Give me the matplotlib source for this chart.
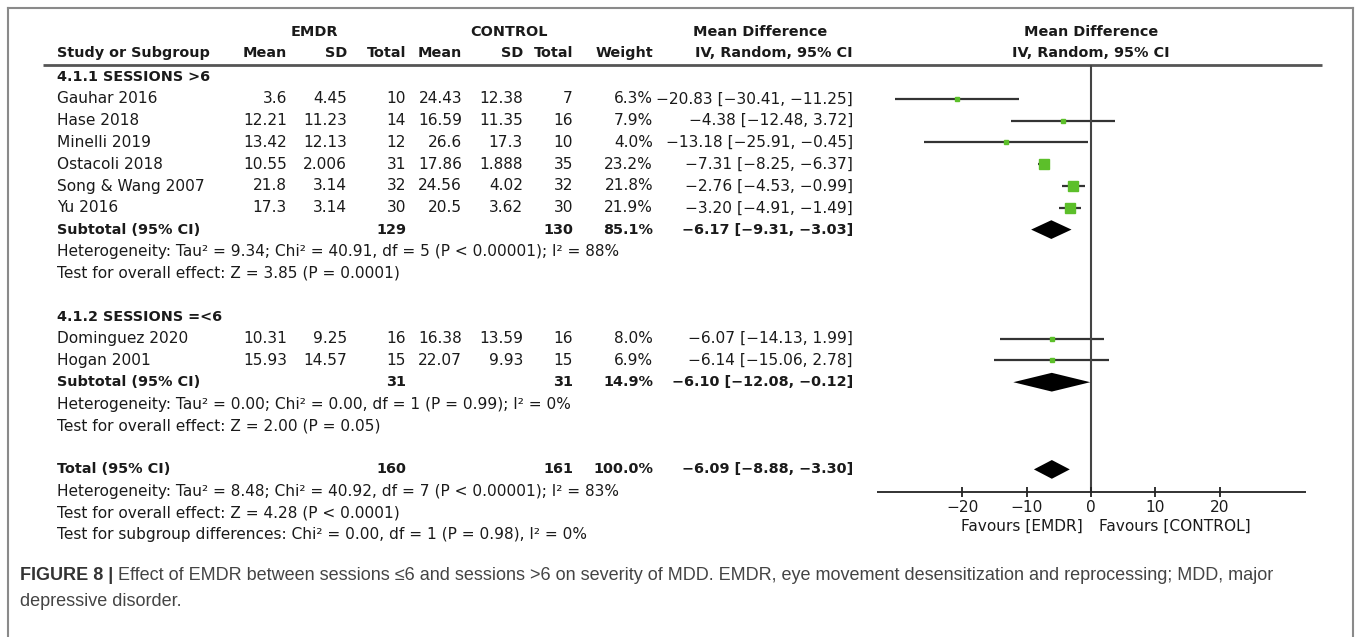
import matplotlib
matplotlib.use("Agg")
import matplotlib.pyplot as plt
from matplotlib.lines import Line2D

# ---- data ----
studies = ["Gauhar 2016", "Hase 2018", "Minelli 2019", "Ostacoli 2018",
           "Song & Wang 2007", "Yu 2016", "Dominguez 2020", "Hogan 2001"]
study_group = [0, 0, 0, 0, 0, 0, 1, 1]
emdr_mean = ["3.6", "12.21", "13.42", "10.55", "21.8", "17.3", "10.31", "15.93"]
emdr_sd = ["4.45", "11.23", "12.13", "2.006", "3.14", "3.14", "9.25", "14.57"]
emdr_n = [10, 14, 12, 31, 32, 30, 16, 15]
ctrl_mean = ["24.43", "16.59", "26.6", "17.86", "24.56", "20.5", "16.38", "22.07"]
ctrl_sd = ["12.38", "11.35", "17.3", "1.888", "4.02", "3.62", "13.59", "9.93"]
ctrl_n = [7, 16, 10, 35, 32, 30, 16, 15]
weight = [6.3, 7.9, 4.0, 23.2, 21.8, 21.9, 8.0, 6.9]
md = [-20.83, -4.38, -13.18, -7.31, -2.76, -3.20, -6.07, -6.14]
ci_lo = [-30.41, -12.48, -25.91, -8.25, -4.53, -4.91, -14.13, -15.06]
ci_hi = [-11.25, 3.72, -0.45, -6.37, -0.99, -1.49, 1.99, 2.78]

groups = ["4.1.1 SESSIONS >6", "4.1.2 SESSIONS =<6"]
sub_emdr_n = [129, 31]
sub_ctrl_n = [130, 31]
sub_weight = [85.1, 14.9]
sub_md = [-6.17, -6.10]
sub_lo = [-9.31, -12.08]
sub_hi = [-3.03, -0.12]
sub_het = ["Heterogeneity: Tau² = 9.34; Chi² = 40.91, df = 5 (P < 0.00001); I² = 88%",
           "Heterogeneity: Tau² = 0.00; Chi² = 0.00, df = 1 (P = 0.99); I² = 0%"]
sub_test = ["Test for overall effect: Z = 3.85 (P = 0.0001)",
            "Test for overall effect: Z = 2.00 (P = 0.05)"]

total_emdr_n = 160
total_ctrl_n = 161
total_weight = 100.0
total_md = -6.09
total_lo = -8.88
total_hi = -3.30
total_lines = ["Heterogeneity: Tau² = 8.48; Chi² = 40.92, df = 7 (P < 0.00001); I² = 83%",
               "Test for overall effect: Z = 4.28 (P < 0.0001)",
               "Test for subgroup differences: Chi² = 0.00, df = 1 (P = 0.98), I² = 0%"]

xticks = [-20, -10, 0, 10, 20]
favours = ["Favours [EMDR]", "Favours [CONTROL]"]

caption_bold = "FIGURE 8 |"
caption_text = (" Effect of EMDR between sessions \u22646 and sessions >6 on severity of MDD. "
                "EMDR, eye movement desensitization and reprocessing; MDD, major")
caption_line2 = "depressive disorder."

# ---- style ----
W, H = 1357, 637
FS = 11.1      # regular table text
FSB = 10.4     # bold table text
TXT = "#1a1a1a"
GREEN = "#5cbf2a"
ROW0, ROWH = 77, 21.8   # pixel y of first row, row height


def neg(v, fmt="{:.2f}"):
    return fmt.format(v).replace("-", "\u2212")


def ci_str(m, lo, hi):
    return "%s [%s, %s]" % (neg(m), neg(lo), neg(hi))


fig = plt.figure(figsize=(W / 100, H / 100), dpi=100)
ax = fig.add_axes([0, 0, 1, 1])
ax.set_xlim(0, W)
ylim = ((H - ROW0) / ROWH, -ROW0 / ROWH)
ax.set_ylim(*ylim)
ax.axis("off")

# forest axes, x in mean-difference units
px_per_unit = 6.43
zero_px = 1091
fx0, fx1 = 870, 1322
fax = fig.add_axes([fx0 / W, 0, (fx1 - fx0) / W, 1])
fax.set_xlim((fx0 - zero_px) / px_per_unit, (fx1 - zero_px) / px_per_unit)
fax.set_ylim(*ylim)
fax.axis("off")
fax.patch.set_alpha(0)

# columns (right edges in px)
c_name = 57
c_em, c_esd, c_en = 287, 347, 406
c_cm, c_csd, c_cn = 462, 523, 573
c_w, c_ci = 653, 853


def t(x, y, s, ha="right", bold=False, **kw):
    ax.text(x, y, s, ha=ha, va="center", fontsize=FSB if bold else FS, color=TXT,
            fontweight="bold" if bold else "normal", family="DejaVu Sans", **kw)


# header
t(314, -2.06, "EMDR", ha="center", bold=True)
t(509, -2.06, "CONTROL", ha="center", bold=True)
t(760, -2.06, "Mean Difference", ha="center", bold=True)
t(1091, -2.06, "Mean Difference", ha="center", bold=True)
t(c_name, -1.1, "Study or Subgroup", ha="left", bold=True)
for x, s in [(c_em, "Mean"), (c_esd, "SD"), (c_en, "Total"), (c_cm, "Mean"),
             (c_csd, "SD"), (c_cn, "Total"), (c_w, "Weight"), (c_ci, "IV, Random, 95% CI")]:
    t(x, -1.1, s, bold=True)
t(1091, -1.1, "IV, Random, 95% CI", ha="center", bold=True)
ax.hlines(-0.55, 43, fx1, color="#555555", lw=2)

# body
row = 0
for g, gname in enumerate(groups):
    t(c_name, row, gname, ha="left", bold=True)
    row += 1
    for i in range(len(studies)):
        if study_group[i] != g:
            continue
        t(c_name, row, studies[i], ha="left")
        t(c_em, row, emdr_mean[i])
        t(c_esd, row, emdr_sd[i])
        t(c_en, row, str(emdr_n[i]))
        t(c_cm, row, ctrl_mean[i])
        t(c_csd, row, ctrl_sd[i])
        t(c_cn, row, str(ctrl_n[i]))
        t(c_w, row, "%.1f%%" % weight[i])
        t(c_ci, row, ci_str(md[i], ci_lo[i], ci_hi[i]))
        fax.hlines(row, ci_lo[i], ci_hi[i], color="#333333", lw=1.6, zorder=2)
        fax.plot(md[i], row, marker="s", color=GREEN, mec=GREEN,
                 markersize=(2 + 0.33 * weight[i]) * 0.72, zorder=3)
        row += 1
    t(c_name, row, "Subtotal (95% CI)", ha="left", bold=True)
    t(c_en, row, str(sub_emdr_n[g]), bold=True)
    t(c_cn, row, str(sub_ctrl_n[g]), bold=True)
    t(c_w, row, "%.1f%%" % sub_weight[g], bold=True)
    t(c_ci, row, ci_str(sub_md[g], sub_lo[g], sub_hi[g]), bold=True)
    fax.fill([sub_lo[g], sub_md[g], sub_hi[g], sub_md[g]],
             [row, row - 0.43, row, row + 0.43], color="black", lw=0, zorder=3)
    row += 1
    t(c_name, row, sub_het[g], ha="left")
    row += 1
    t(c_name, row, sub_test[g], ha="left")
    row += 2

t(c_name, row, "Total (95% CI)", ha="left", bold=True)
t(c_en, row, str(total_emdr_n), bold=True)
t(c_cn, row, str(total_ctrl_n), bold=True)
t(c_w, row, "%.1f%%" % total_weight, bold=True)
t(c_ci, row, ci_str(total_md, total_lo, total_hi), bold=True)
fax.fill([total_lo, total_md, total_hi, total_md],
         [row, row - 0.43, row, row + 0.43], color="black", lw=0, zorder=3)
for line in total_lines:
    row += 1
    t(c_name, row, line, ha="left")

# forest axis
axis_row = (492 - ROW0) / ROWH
fax.vlines(0, -0.55, axis_row, color="#444444", lw=1.5)
fax.hlines(axis_row, -33.3, 33.4, color="#222222", lw=1.3)
for v in xticks:
    fax.vlines(v, axis_row - 0.25, axis_row + 0.25, color="#222222", lw=1.3)
    fax.text(v, axis_row + 0.72, neg(v, "{:d}"), ha="center", va="center",
             fontsize=FS, color=TXT)
fav_row = (526 - ROW0) / ROWH
fax.text(-1.3, fav_row, favours[0], ha="right", va="center", fontsize=FS, color=TXT)
fax.text(1.2, fav_row, favours[1], ha="left", va="center", fontsize=FS, color=TXT)

# frame (open at the bottom)
fr = "#8a8a8a"
fig.add_artist(Line2D([8 / W, 8 / W], [0, 1 - 8 / H], color=fr, lw=1.5, transform=fig.transFigure))
fig.add_artist(Line2D([1353 / W, 1353 / W], [0, 1 - 8 / H], color=fr, lw=1.5, transform=fig.transFigure))
fig.add_artist(Line2D([8 / W, 1353 / W], [1 - 8 / H, 1 - 8 / H], color=fr, lw=1.5, transform=fig.transFigure))

# caption
cap_y1 = 1 - 575 / H
cap_y2 = 1 - 602 / H
cb = fig.text(20 / W, cap_y1, caption_bold, fontsize=13.0, fontweight="bold",
              color="#333333", family="Liberation Sans", va="center")
renderer = fig.canvas.get_renderer()
bb = cb.get_window_extent(renderer)
fig.text(bb.x1 / W, cap_y1, caption_text, fontsize=13.0, color="#444444",
         family="Liberation Sans", va="center")
fig.text(20 / W, cap_y2, caption_line2, fontsize=13.0, color="#444444",
         family="Liberation Sans", va="center")

fig.savefig("out.png", dpi=100, facecolor="white")
